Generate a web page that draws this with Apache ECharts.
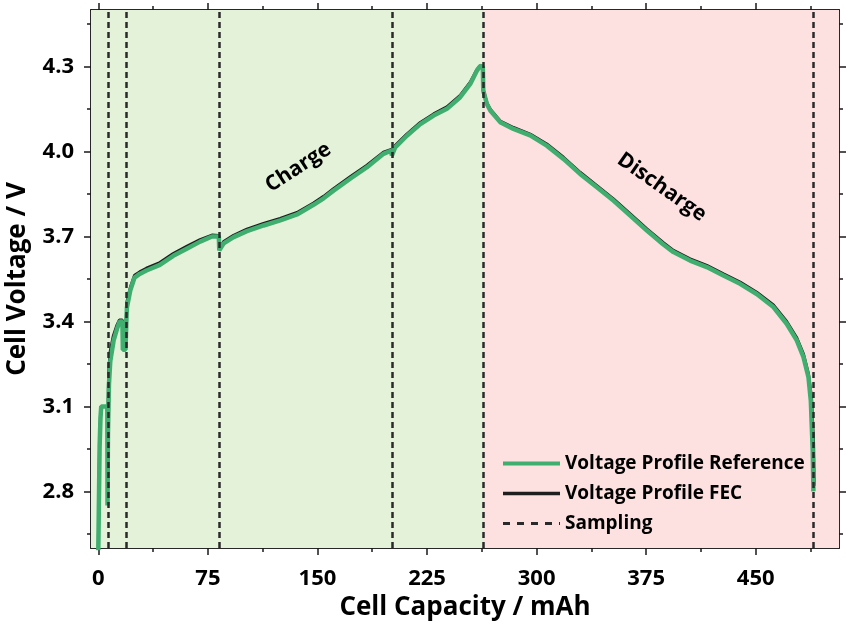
<!DOCTYPE html>
<html>
<head>
<meta charset="utf-8">
<script src="https://cdn.jsdelivr.net/npm/echarts@6/dist/echarts.min.js"></script>
<style>html,body{margin:0;padding:0;background:#fff}#c{width:850px;height:625px}</style>
</head>
<body>
<div id="c"></div>
<script>
// Reference cell: [capacity mAh, voltage V]
const refProfile = [[0,2.59],[0.3,2.72],[0.9,2.96],[1.5,3.06],[2.0,3.10],[4,3.10],[6.2,3.10],[6.3,2.75],[6.6,3.0],[7.3,3.18],[8.2,3.26],[10.5,3.333],[12.8,3.374],[14.6,3.40],[16.5,3.40],[16.8,3.30],[18.6,3.30],[19.2,3.40],[19.6,3.45],[21.9,3.51],[24.8,3.555],[28.3,3.568],[32.9,3.58],[42.1,3.60],[51.3,3.632],[60.5,3.657],[69.7,3.682],[77.8,3.70],[82.5,3.70],[82.8,3.651],[85.8,3.676],[92.6,3.698],[101.7,3.719],[113.1,3.739],[124.5,3.757],[136,3.778],[147.3,3.812],[154.2,3.835],[161.0,3.862],[172.4,3.904],[183.9,3.945],[195.2,3.992],[200.6,4.004],[200.9,3.986],[203.2,4.015],[211.2,4.056],[220.4,4.097],[229.5,4.127],[238.6,4.151],[247.7,4.192],[254.6,4.239],[259.2,4.286],[261.4,4.302],[263.2,4.30],[263.5,4.215],[266,4.168],[268.3,4.145],[275.1,4.104],[284.2,4.080],[295.6,4.057],[307,4.021],[318.4,3.974],[329.8,3.921],[341.3,3.874],[352.6,3.827],[364.1,3.774],[375.5,3.721],[386.8,3.672],[393.7,3.645],[405.1,3.615],[416.5,3.592],[427.9,3.562],[439.3,3.533],[450.7,3.497],[462.1,3.451],[471.2,3.392],[478.1,3.333],[482.7,3.274],[486.1,3.203],[487.7,3.121],[489.0,2.945],[489.5,2.80]];
// FEC cell
const fecProfile = [[0,2.60],[0.3,2.74],[0.9,2.98],[1.5,3.07],[2.0,3.10],[4,3.10],[6.2,3.10],[6.3,2.78],[6.5,3.05],[7.1,3.22],[8.0,3.29],[10.3,3.35],[12.6,3.385],[14.4,3.405],[16.5,3.405],[16.8,3.31],[18.6,3.31],[19.2,3.42],[19.6,3.47],[21.9,3.52],[24.8,3.563],[28.3,3.575],[32.9,3.588],[42.1,3.608],[51.3,3.64],[60.5,3.665],[69.7,3.689],[77.8,3.705],[82.5,3.704],[82.8,3.656],[85.8,3.682],[92.6,3.704],[101.7,3.726],[113.1,3.746],[124.5,3.764],[136,3.785],[147.3,3.818],[154.2,3.842],[161,3.869],[172.4,3.911],[183.9,3.952],[195.2,3.998],[200.6,4.008],[200.9,3.99],[203.2,4.021],[211.2,4.062],[220.4,4.103],[229.5,4.133],[238.6,4.158],[247.7,4.198],[254.6,4.245],[259.2,4.29],[261.4,4.303],[263.2,4.30],[263.5,4.22],[266,4.172],[268.3,4.15],[275.1,4.108],[284.2,4.085],[295.6,4.062],[307,4.027],[318.4,3.98],[329.8,3.927],[341.3,3.88],[352.6,3.833],[364.1,3.78],[375.5,3.727],[386.8,3.678],[393.7,3.651],[405.1,3.621],[416.5,3.598],[427.9,3.568],[439.3,3.539],[450.7,3.503],[462.1,3.458],[471.2,3.40],[478.1,3.342],[482.7,3.285],[486.1,3.215],[488.2,3.13],[489.6,2.97],[490,2.82]];
const samplingCapacity = [6.5, 19, 83, 201, 263.3, 489.5];
const chargeEnd = 263.3;
const xMajorTicks = [0, 75, 150, 225, 300, 375, 450];
const xMinorTicks = [37.5, 112.5, 187.5, 262.5, 337.5, 412.5, 487.5];
const yMajorTicks = [2.8, 3.1, 3.4, 3.7, 4.0, 4.3];
const yMinorTicks = [2.65, 2.95, 3.25, 3.55, 3.85, 4.15, 4.45];
const phaseLabels = [{name: 'Charge', cap: 136.9, v: 3.944, rot: 33}, {name: 'Discharge', cap: 385.7, v: 3.874, rot: -35}];

const X_MIN = -5, X_MAX = 507, Y_MIN = 2.6, Y_MAX = 4.5;
const FONT = '"Open Sans", "DejaVu Sans", sans-serif';
const AX = '#1a1a1a';
const GREEN = '#3fae6f', BLACK = '#1e1e1e', DASH = '#2a2a2a';

function xAxisDef(pos, ticks, len, labels) {
  return {
    type: 'value', position: pos, min: X_MIN, max: X_MAX,
    axisLine: {show: true, onZero: false, lineStyle: {color: AX, width: 1.5}},
    axisTick: {show: true, inside: false, length: len, customValues: ticks, lineStyle: {color: AX, width: 1.5}},
    axisLabel: labels ? {show: true, customValues: ticks, margin: 20, color: '#000', fontFamily: FONT, fontWeight: 'bold', fontSize: 22} : {show: false},
    splitLine: {show: false},
    name: labels ? 'Cell Capacity / mAh' : '', nameLocation: 'middle', nameGap: 44,
    nameTextStyle: {color: '#000', fontFamily: FONT, fontWeight: 'bold', fontSize: 26}
  };
}
function yAxisDef(pos, ticks, len, labels) {
  return {
    type: 'value', position: pos, min: Y_MIN, max: Y_MAX,
    axisLine: {show: true, onZero: false, lineStyle: {color: AX, width: 1.5}},
    axisTick: {show: true, inside: false, length: len, customValues: ticks, lineStyle: {color: AX, width: 1.5}},
    axisLabel: labels ? {show: true, customValues: ticks, margin: 17, color: '#000', fontFamily: FONT, fontWeight: 'bold', fontSize: 22, formatter: v => v.toFixed(1)} : {show: false},
    splitLine: {show: false},
    name: labels ? 'Cell Voltage / V' : '', nameLocation: 'middle', nameGap: 60,
    nameTextStyle: {color: '#000', fontFamily: FONT, fontWeight: 'bold', fontSize: 26}
  };
}

const chart = echarts.init(document.getElementById('c'), null, {renderer: 'canvas'});
chart.setOption({
  animation: false,
  backgroundColor: '#fff',
  grid: {left: 91, right: 11, top: 10, bottom: 77, containLabel: false, outerBoundsMode: 'none'},
  xAxis: [
    xAxisDef('bottom', xMajorTicks, 7, true),
    xAxisDef('bottom', xMinorTicks, 4, false),
    xAxisDef('top', xMajorTicks, 7, false),
    xAxisDef('top', xMinorTicks, 4, false)
  ],
  yAxis: [
    yAxisDef('left', yMajorTicks, 7, true),
    yAxisDef('left', yMinorTicks, 4, false),
    yAxisDef('right', yMajorTicks, 7, false),
    yAxisDef('right', yMinorTicks, 4, false)
  ],
  legend: {
    data: [
      {name: 'Voltage Profile Reference', lineStyle: {width: 4, color: GREEN}},
      {name: 'Voltage Profile FEC', lineStyle: {width: 3.5, color: BLACK}},
      {name: 'Sampling', lineStyle: {width: 3, color: DASH, type: [7, 7]}}
    ],
    orient: 'vertical', left: 496, top: 449, itemWidth: 57, itemHeight: 14, itemGap: 11,
    itemStyle: {opacity: 0},
    textStyle: {color: '#000', fontFamily: FONT, fontWeight: 'bold', fontSize: 19}
  },
  series: [
    {
      name: 'Voltage Profile FEC', type: 'line', data: fecProfile, showSymbol: false, symbol: 'none',
      lineStyle: {color: BLACK, width: 3}, itemStyle: {color: BLACK}, z: 3,
      markArea: {
        silent: true,
        data: [
          [{xAxis: X_MIN, itemStyle: {color: '#e4f2d9'}}, {xAxis: chargeEnd}],
          [{xAxis: chargeEnd, itemStyle: {color: '#fde0e0'}}, {xAxis: X_MAX}]
        ]
      }
    },
    {
      name: 'Voltage Profile Reference', type: 'line', data: refProfile, showSymbol: false, symbol: 'none',
      lineStyle: {color: GREEN, width: 4.5}, itemStyle: {color: GREEN}, z: 4,
      markPoint: {
        symbol: 'circle', symbolSize: 0, silent: true,
        data: phaseLabels.map(p => ({name: p.name, coord: [p.cap, p.v], label: {rotate: p.rot}})),
        label: {show: true, position: 'inside', formatter: '{b}', color: '#000', fontFamily: FONT, fontWeight: 'bold', fontSize: 21}
      }
    },
    {
      name: 'Sampling', type: 'line', data: [], showSymbol: false, symbol: 'none',
      lineStyle: {color: DASH, width: 2.5, type: [6, 4]}, itemStyle: {color: DASH}, z: 5,
      markLine: {
        silent: true, symbol: 'none', label: {show: false},
        lineStyle: {color: DASH, width: 2.5, type: [6, 4]},
        data: samplingCapacity.map(c => ({xAxis: c}))
      }
    }
  ]
});
</script>
</body>
</html>
